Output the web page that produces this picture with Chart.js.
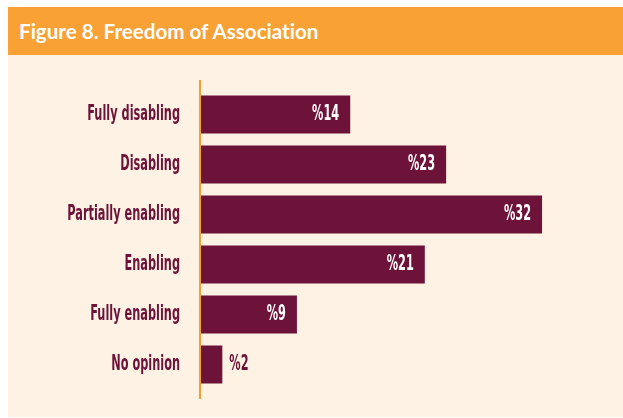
<!DOCTYPE html>
<html>
<head>
<meta charset="utf-8">
<script src="https://cdn.jsdelivr.net/npm/chart.js@4"></script>
<style>
  html, body { margin: 0; padding: 0; background: #ffffff; }
  #frame { position: absolute; left: 8px; top: 7px; width: 615px; height: 410px; }
  #head {
    height: 48px; background: #F9A134; color: #ffffff;
    font-family: Lato, "Open Sans", sans-serif; font-weight: 700; font-size: 20.6px;
    font-variant-ligatures: none;
    line-height: 49px; padding-left: 11px; box-sizing: border-box;
  }
  #panel { position: relative; height: 362px; background: #FDF2E3; }
  canvas { display: block; }
</style>
</head>
<body>
<div id="frame">
  <div id="head">Figure 8. Freedom of Association</div>
  <div id="panel"><canvas id="chart" width="615" height="362"></canvas></div>
</div>
<script>
// 응답 범주와 비율 (%)
const categories = ["Fully disabling", "Disabling", "Partially enabling", "Enabling", "Fully enabling", "No opinion"];
const shares = [14, 23, 32, 21, 9, 2];
const valueLabels = ["%14", "%23", "%32", "%21", "%9", "%2"];

const MAROON = '#6D1239';
const ORANGE = '#F6A030';
const FONT = 'bold 21px "Liberation Sans Narrow", "DejaVu Sans Condensed", sans-serif';
const SQUEEZE = 0.6; // 글꼴 가로 압축

// 가로로 눌린 글자 그리기
function squeezedText(ctx, text, x, y, align, color) {
    ctx.save();
    ctx.font = FONT;
    ctx.fillStyle = color;
    ctx.textBaseline = 'middle';
    ctx.textAlign = align;
    ctx.translate(x, y);
    ctx.scale(SQUEEZE, 1);
    ctx.fillText(text, 0, 0);
    ctx.restore();
}

// 세로 축선 + 카테고리 이름 + 값 라벨
const decor = {
    id: 'decor',
    afterDatasetsDraw(chart) {
        const ctx = chart.ctx;
        const area = chart.chartArea;
        const y = chart.scales.y;
        const x = chart.scales.x;

        ctx.save();
        ctx.fillStyle = ORANGE;
        ctx.fillRect(area.left - 2, area.top - 9.5, 2, area.bottom - area.top + 19);
        ctx.restore();

        categories.forEach((name, i) => {
            const py = y.getPixelForValue(i);
            squeezedText(ctx, name, area.left - 21, py, 'right', MAROON);
        });

        const meta = chart.getDatasetMeta(0);
        meta.data.forEach((bar, i) => {
            const end = x.getPixelForValue(shares[i]);
            if (shares[i] >= 5) {
                squeezedText(ctx, valueLabels[i], end - 11, bar.y, 'right', '#ffffff');
            } else {
                squeezedText(ctx, valueLabels[i], end + 7, bar.y, 'left', MAROON);
            }
        });
    }
};

const ctx = document.getElementById('chart').getContext('2d');
new Chart(ctx, {
    type: 'bar',
    data: {
        labels: categories,
        datasets: [{
            data: shares,
            backgroundColor: MAROON,
            borderWidth: 0,
            barPercentage: 0.76,
            categoryPercentage: 1
        }]
    },
    options: {
        indexAxis: 'y',
        responsive: false,
        animation: false,
        layout: { padding: { top: 34.5, bottom: 27.5, right: 17, left: 0 } },
        scales: {
            x: { display: false, min: 0, max: 38 },
            y: {
                grid: { display: false, drawTicks: false },
                border: { display: false },
                ticks: { display: false },
                afterFit(scale) { scale.width = 193; }
            }
        },
        plugins: {
            legend: { display: false },
            tooltip: { enabled: false }
        }
    },
    plugins: [decor]
});
</script>
</body>
</html>
